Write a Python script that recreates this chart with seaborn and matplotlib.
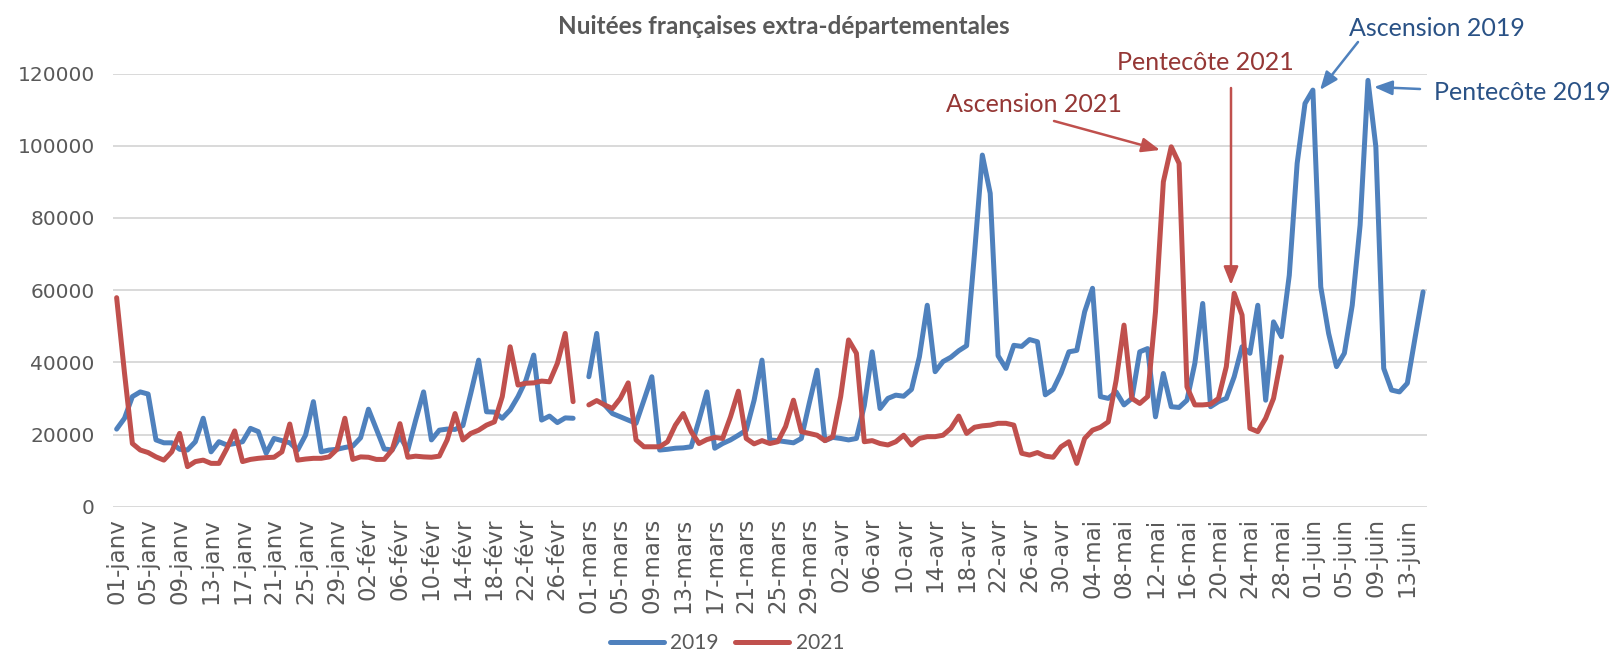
import pandas as pd
import matplotlib
matplotlib.use("Agg")
import matplotlib.pyplot as plt
from matplotlib.ticker import FuncFormatter
import seaborn as sns

# jours du 01-janv au 15-juin (29-févr inclus, comme l'axe du graphique)
mois = {1: "janv", 2: "févr", 3: "mars", 4: "avr", 5: "mai", 6: "juin"}
jours = pd.date_range("2020-01-01", "2020-06-15", freq="D")
etiquettes = [f"{d.day:02d}-{mois[d.month]}" for d in jours]

nuitees_2019 = [
    21500, 24500, 30500, 31800, 31200, 18500, 17700, 17700, 15900, 15700,
    18000, 24500, 15200, 18000, 17100, 17500, 18000, 21700, 20800, 14800,
    18900, 18300, 17700, 15700, 19800, 29100, 15200, 15700, 15900, 16400,
    16800, 19100, 27000, 21500, 16000, 15700, 19400, 15700, 24000, 31800,
    18500, 21200, 21500, 21400, 22500, 31400, 40600, 26300, 26200, 24500,
    26800, 30500, 35000, 42000, 24000, 25100, 23300, 24600, 24500, None,
    36000, 48000, 28200, 25800, 24900, 24000, 23100, 29500, 36000, 15700,
    15900, 16200, 16300, 16600, 24000, 31800, 16200, 17500, 18500, 19800,
    21200, 29500, 40600, 18500, 18300, 18000, 17700, 18900, 28600, 37800,
    18300, 19200, 18900, 18500, 18900, 28000, 42900, 27200, 30000, 30900,
    30600, 32500, 41500, 55800, 37400, 40200, 41400, 43200, 44600, 70000,
    97400, 86800, 41800, 38300, 44700, 44400, 46300, 45700, 31000, 32500,
    37000, 42900, 43300, 54000, 60500, 30500, 30000, 31800, 28200, 30000,
    42900, 43800, 24900, 36900, 27700, 27500, 29500, 39700, 56300, 27700,
    29100, 30000, 36000, 44300, 42500, 55800, 29500, 51200, 47100, 64100,
    95100, 111700, 115400, 60900, 48000, 38800, 42500, 55800, 78000, 118100,
    99700, 38300, 32300, 31800, 34200, 47000, 59500,
]

nuitees_2021 = [
    57900, 37000, 17500, 15700, 15000, 13800, 12900, 15200, 20300, 11100,
    12500, 12900, 12000, 12000, 16100, 21000, 12500, 13100, 13400, 13600,
    13700, 15200, 22900, 12900, 13200, 13400, 13400, 13800, 15900, 24500,
    13100, 13800, 13700, 13100, 13100, 15700, 23000, 13700, 14000, 13800,
    13700, 14000, 18500, 25800, 18500, 20300, 21200, 22600, 23500, 30500,
    44300, 33700, 34200, 34300, 34800, 34600, 39700, 48000, 29100, None,
    28200, 29400, 28200, 27200, 30000, 34300, 18500, 16600, 16600, 16600,
    18000, 22600, 25800, 20800, 17500, 18600, 19200, 18900, 24900, 32000,
    18900, 17400, 18300, 17500, 18000, 22200, 29500, 20800, 20300, 19800,
    18300, 19400, 30500, 46200, 42500, 18000, 18300, 17500, 17100, 18000,
    19800, 17100, 18900, 19400, 19400, 19800, 21700, 25100, 20300, 22000,
    22400, 22600, 23100, 23100, 22600, 14800, 14300, 15000, 14000, 13700,
    16600, 18000, 12000, 18900, 21200, 22000, 23500, 35000, 50300, 30000,
    28600, 30500, 54000, 90000, 99700, 95100, 33200, 28200, 28200, 28400,
    30000, 38800, 59100, 53100, 21700, 20800, 24500, 30000, 41500,
]

annees = ["2019", "2021"]
couleurs = {"2019": "#4F81BD", "2021": "#C0504D"}

lignes = []
for annee, valeurs in zip(annees, [nuitees_2019, nuitees_2021]):
    for i, v in enumerate(valeurs):
        if v is None:
            continue
        lignes.append({"jour": i, "nuitees": v, "annee": annee, "seg": 0 if i < 59 else 1})
df = pd.DataFrame(lignes)

sns.set_style("white")
plt.rcParams["font.family"] = ["Lato", "DejaVu Sans"]

W, H = 1616, 652
fig = plt.figure(figsize=(W / 100, H / 100), dpi=100)
ax = fig.add_axes([112.7 / W, 1 - 506.7 / H, (1427 - 112.7) / W, (506.7 - 73.5) / H])

sns.lineplot(data=df, x="jour", y="nuitees", hue="annee", units="seg", estimator=None,
             palette=couleurs, linewidth=3.6, ax=ax,
             solid_joinstyle="round", solid_capstyle="round")

ax.set_xlim(-0.5, len(jours) - 0.5)
ax.set_ylim(0, 120000)
ax.set_yticks(range(0, 120001, 20000))
ax.yaxis.set_major_formatter(FuncFormatter(lambda v, p: f"{int(v)}"))
ax.yaxis.grid(True, color="#D9D9D9", linewidth=1.4)
ax.set_axisbelow(True)
ax.set_xticks(range(0, len(jours), 4))
ax.set_xticklabels(etiquettes[::4], rotation=90)
ax.tick_params(axis="y", labelsize=14.5, colors="#595959", length=0, pad=13)
ax.tick_params(axis="x", labelsize=16.5, colors="#595959", length=0, pad=8)
for lbl in ax.get_xticklabels() + ax.get_yticklabels():
    lbl.set_family("DejaVu Sans")
ax.set_xlabel("")
ax.set_ylabel("")
sns.despine(ax=ax, left=True, bottom=True)

fig.text(784 / W, 1 - 26 / H, "Nuitées françaises extra-départementales",
         ha="center", va="center", fontsize=17.5, fontweight="bold", color="#595959")

leg = ax.legend(loc="center", bbox_to_anchor=(727 / W, 1 - 643 / H), bbox_transform=fig.transFigure,
                ncol=2, frameon=False, fontsize=15, handlelength=2.6,
                columnspacing=0.8, handletextpad=0.3, borderpad=0)
for t in leg.get_texts():
    t.set_color("#595959")


def px(x, y):
    return (x / W, 1 - y / H)


# annotations des jours fériés
textes = [
    ("Ascension 2021", (1034, 105), "#953735"),
    ("Pentecôte 2021", (1205, 62), "#953735"),
    ("Ascension 2019", (1437, 29), "#2A5286"),
    ("Pentecôte 2019", (1522, 93), "#2A5286"),
]
for txt, pos, c in textes:
    fig.text(*px(*pos), txt, ha="center", va="center", fontsize=18, color=c)

fleches = [
    ((1054, 121), (1160, 150), "#C0504D"),
    ((1231, 88), (1231, 285), "#C0504D"),
    ((1358, 42), (1320, 90), "#4F81BD"),
    ((1420, 89), (1374, 87), "#4F81BD"),
]
for queue, tete, c in fleches:
    ax.annotate("", xy=px(*tete), xycoords="figure fraction",
                xytext=px(*queue), textcoords="figure fraction",
                annotation_clip=False,
                arrowprops=dict(arrowstyle="-|>,head_length=0.55,head_width=0.22",
                                color=c, lw=1.8, mutation_scale=20,
                                shrinkA=0, shrinkB=0))

fig.savefig("out.png", dpi=100)
